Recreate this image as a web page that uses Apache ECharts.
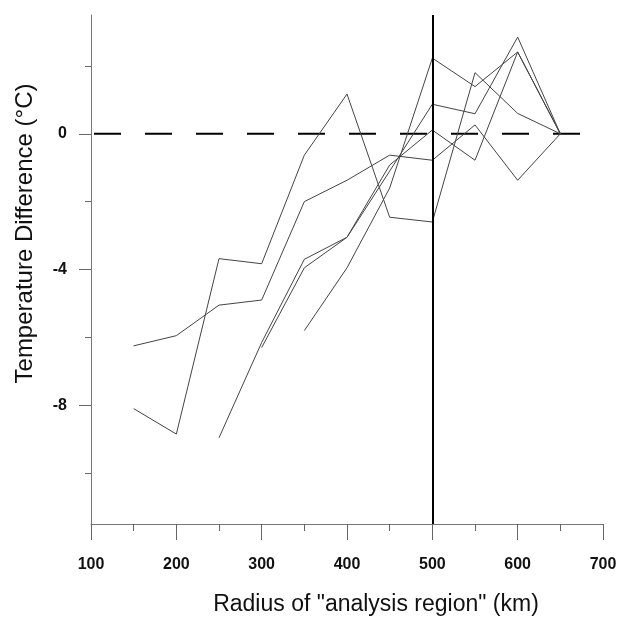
<!DOCTYPE html>
<html>
<head>
<meta charset="utf-8">
<script src="https://cdn.jsdelivr.net/npm/echarts@6/dist/echarts.min.js"></script>
<style>
  html, body { margin: 0; padding: 0; background: #fff; }
  #chart { width: 620px; height: 617px; }
</style>
</head>
<body>
<div id="chart"></div>
<script>
  /* data */
  var radii = [150, 200, 250, 300, 350, 400, 450, 500, 550, 600, 650];
  var run1 = [-8.1, -8.85, -3.68, -3.83, -0.63, 1.17, -2.46, -2.6, 1.8, 0.6, 0];
  var run2 = [-6.25, -5.95, -5.05, -4.9, -2.0, -1.37, -0.63, -0.78, 0.26, -1.37, 0];
  var run3 = [null, null, -8.96, -6.15, -3.7, -3.05, -1.1, 0.87, 0.59, 2.85, 0];
  var run4 = [null, null, null, -6.3, -3.95, -3.05, -0.92, 0.11, -0.78, 2.41, 0];
  var run5 = [null, null, null, null, -5.8, -3.95, -1.6, 2.23, 1.39, 2.41, 0];
  var zeroLineX = [100, 675];
  var refRadius = 500;
  var yLabelTicks = [-8, -4, 0];
  var yMinorTicks = [-10, -6, -2, 2];

  var font = 'Liberation Sans, Arial, sans-serif';

  function pairs(vals) {
    var out = [];
    for (var i = 0; i < radii.length; i++) {
      if (vals[i] !== null) out.push([radii[i], vals[i]]);
    }
    return out;
  }

  function runSeries(vals) {
    return {
      type: 'line',
      data: pairs(vals),
      symbol: 'none',
      lineStyle: { color: '#444', width: 1 },
      z: 3
    };
  }

  var chart = echarts.init(document.getElementById('chart'));
  var option = {
    animation: false,
    backgroundColor: '#fff',
    grid: { left: 91, right: 17, top: 15, bottom: 93, outerBoundsMode: 'none', containLabel: false },
    xAxis: {
      type: 'value',
      min: 100,
      max: 700,
      interval: 100,
      name: 'Radius of "analysis region" (km)',
      nameLocation: 'middle',
      nameGap: 69,
      nameTextStyle: { fontSize: 23, color: '#111', fontFamily: font, padding: [0, 0, 0, 58] },
      axisLine: { onZero: false, lineStyle: { color: '#777', width: 1 } },
      axisTick: { length: 16, lineStyle: { color: '#666' } },
      minorTick: { show: true, splitNumber: 2, length: 7, lineStyle: { color: '#666' } },
      axisLabel: { margin: 33, fontSize: 16, fontWeight: 'bold', color: '#111', fontFamily: font },
      splitLine: { show: false },
      minorSplitLine: { show: false }
    },
    yAxis: [{
      type: 'value',
      min: -11.5,
      max: 3.5,
      name: 'Temperature Difference (\u00B0C)',
      nameLocation: 'middle',
      nameGap: 54,
      nameTextStyle: { fontSize: 24, color: '#111', fontFamily: font, padding: [0, 0, 0, 72] },
      axisLine: { show: true, onZero: false, lineStyle: { color: '#777', width: 1 } },
      axisTick: { customValues: yLabelTicks, length: 12, lineStyle: { color: '#666' } },
      axisLabel: { customValues: yLabelTicks, margin: 24, fontSize: 16, fontWeight: 'bold', color: '#111', fontFamily: font },
      splitLine: { show: false }
    }, {
      type: 'value',
      position: 'left',
      min: -11.5,
      max: 3.5,
      axisLine: { show: false },
      axisTick: { show: true, customValues: yMinorTicks, length: 6, lineStyle: { color: '#666' } },
      axisLabel: { show: false },
      splitLine: { show: false }
    }],
    series: [
      runSeries(run1),
      runSeries(run2),
      runSeries(run3),
      runSeries(run4),
      runSeries(run5),
      {
        /* dashed zero reference */
        type: 'line',
        data: zeroLineX.map(function (x) { return [x, 0]; }),
        symbol: 'none',
        lineStyle: { color: '#000', width: 2, type: [27, 24], dashOffset: -3 },
        z: 2,
        markLine: {
          silent: true,
          symbol: 'none',
          label: { show: false },
          lineStyle: { color: '#000', width: 2, type: 'solid' },
          data: [{ xAxis: refRadius }]
        }
      }
    ]
  };
  chart.setOption(option);
</script>
</body>
</html>
